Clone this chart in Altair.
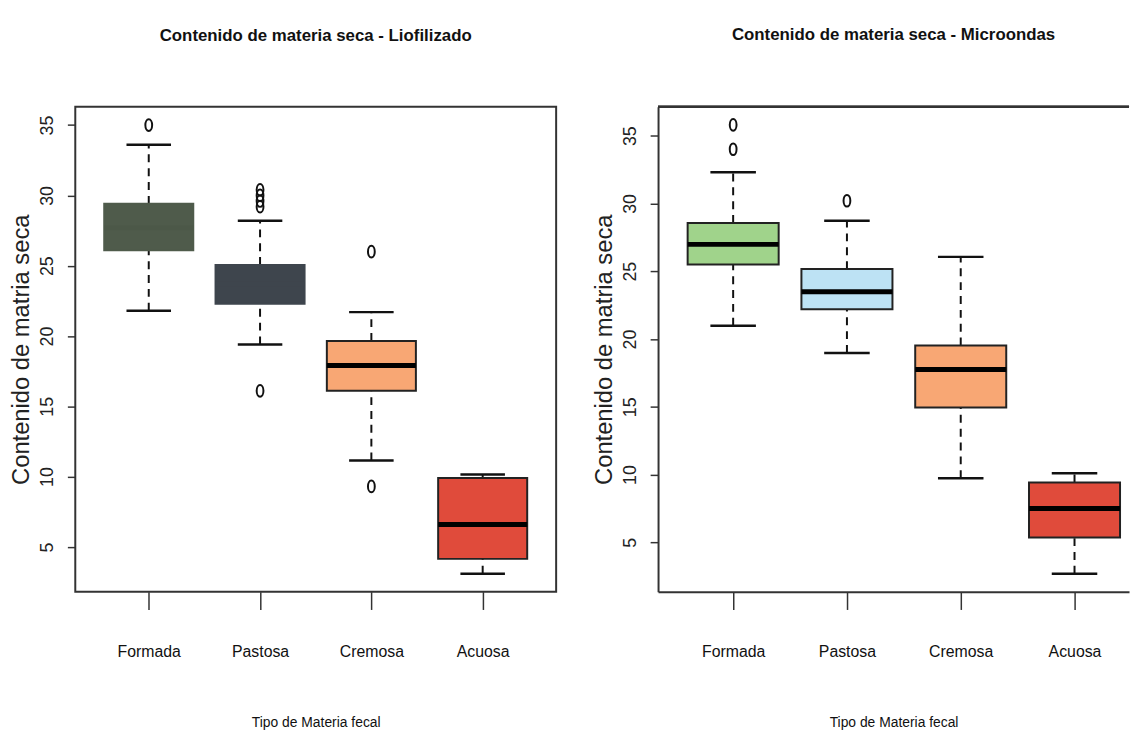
import altair as alt
import pandas as pd

categories = ["Formada", "Pastosa", "Cremosa", "Acuosa"]

# Contenido de materia seca - Liofilizado
lio_lower = [21.8, 19.4, 11.15, 3.1]
lio_q1 = [26.1, 22.3, 16.1, 4.15]
lio_median = [27.7, 23.7, 17.9, 6.6]
lio_q3 = [29.4, 25.05, 19.65, 9.9]
lio_upper = [33.6, 28.2, 21.7, 10.15]
lio_outliers = [[35.0], [30.4, 30.0, 29.6, 29.2, 16.1], [26.0, 9.3], []]
lio_fill = ["#4f5b4b", "#3e454d", "#f8a774", "#e04b3b"]
lio_border = ["#4f5b4b", "#3e454d", "#222222", "#222222"]
lio_medcol = ["#4c5848", "#3e454d", "#000000", "#000000"]

# Contenido de materia seca - Microondas
mic_lower = [20.98, 18.97, 9.73, 2.68]
mic_q1 = [25.5, 22.2, 14.95, 5.36]
mic_median = [26.98, 23.48, 17.75, 7.5]
mic_q3 = [28.56, 25.16, 19.52, 9.42]
mic_upper = [32.3, 28.73, 26.06, 10.1]
mic_outliers = [[35.8, 34.0], [30.2], [], []]
mic_fill = ["#a0d38b", "#bde2f4", "#f8a774", "#e04b3b"]
mic_border = ["#222222", "#222222", "#222222", "#222222"]
mic_medcol = ["#000000", "#000000", "#000000", "#000000"]

y_ticks = [5, 10, 15, 20, 25, 30, 35]

SANS = "'Liberation Sans', Arial, Helvetica, sans-serif"
ELLIPSE = "M -0.58 0 A 0.58 1 0 1 0 0.58 0 A 0.58 1 0 1 0 -0.58 0 Z"

label_expr = "[" + ",".join("'%s'" % c for c in categories) + "][datum.value - 1]"


def panel(title, lower, q1, med, q3, upper, outliers, fill, border, medcol,
          ydom, xdom, width, height, framed):
    box_df = pd.DataFrame({
        "idx": list(range(1, len(categories) + 1)),
        "cat": categories,
        "lower": lower, "q1": q1, "median": med, "q3": q3, "upper": upper,
        "fill": fill, "border": border, "medcol": medcol,
    })
    out_rows = []
    for i, vals in enumerate(outliers):
        for v in vals:
            out_rows.append({"idx": i + 1, "value": v})
    out_df = pd.DataFrame(out_rows, columns=["idx", "value"])

    xscale = alt.Scale(domain=xdom, nice=False, zero=False)
    yscale = alt.Scale(domain=ydom, nice=False, zero=False)
    xaxis = alt.Axis(
        values=[1, 2, 3, 4], labelExpr=label_expr, title="Tipo de Materia fecal",
        grid=False, domain=not framed, domainColor="#333333", domainWidth=2,
        tickSize=18, tickWidth=1.5, tickColor="#333333",
        labelFont=SANS, labelFontSize=16, labelColor="#111111", labelPadding=35,
        titleFont=SANS, titleFontSize=14, titleFontWeight="normal", titleColor="#111111",
        titlePadding=56,
    )
    yaxis = alt.Axis(
        values=y_ticks, title="Contenido de matria seca", grid=False,
        domain=not framed, domainColor="#333333", domainWidth=2,
        tickSize=8, tickWidth=1.5, tickColor="#333333",
        labelAngle=-90, labelAlign="center", labelBaseline="bottom",
        labelFont=SANS, labelFontSize=18, labelColor="#222222", labelPadding=11,
        titleFont=SANS, titleFontSize=24, titleFontWeight="normal", titleColor="#222222",
        titleAngle=-90, titleBaseline="middle", titleAlign="center",
        titleX=-54, titleY=height / 2,
    )

    base = alt.Chart(box_df).transform_calculate(
        xl="datum.idx - 0.4", xr="datum.idx + 0.4",
        cl="datum.idx - 0.2", cr="datum.idx + 0.2",
    )

    whisk_hi = base.mark_rule(strokeDash=[8, 6], strokeWidth=2, color="#111111").encode(
        x=alt.X("idx:Q", scale=xscale, axis=xaxis),
        y=alt.Y("q3:Q", scale=yscale, axis=yaxis), y2="upper:Q")
    whisk_lo = base.mark_rule(strokeDash=[8, 6], strokeWidth=2, color="#111111").encode(
        x=alt.X("idx:Q", scale=xscale, axis=xaxis),
        y=alt.Y("lower:Q", scale=yscale, axis=yaxis), y2="q1:Q")
    cap_hi = base.mark_rule(strokeWidth=2.5, color="#111111").encode(
        x=alt.X("cl:Q", scale=xscale, axis=xaxis), x2="cr:Q",
        y=alt.Y("upper:Q", scale=yscale, axis=yaxis))
    cap_lo = base.mark_rule(strokeWidth=2.5, color="#111111").encode(
        x=alt.X("cl:Q", scale=xscale, axis=xaxis), x2="cr:Q",
        y=alt.Y("lower:Q", scale=yscale, axis=yaxis))
    box = base.mark_rect(strokeWidth=2).encode(
        x=alt.X("xl:Q", scale=xscale, axis=xaxis), x2="xr:Q",
        y=alt.Y("q1:Q", scale=yscale, axis=yaxis), y2="q3:Q",
        fill=alt.Fill("fill:N", scale=None),
        stroke=alt.Stroke("border:N", scale=None))
    median = base.mark_rule(strokeWidth=5).encode(
        x=alt.X("xl:Q", scale=xscale, axis=xaxis), x2="xr:Q",
        y=alt.Y("median:Q", scale=yscale, axis=yaxis),
        color=alt.Color("medcol:N", scale=None))
    pts = alt.Chart(out_df).mark_point(
        shape=ELLIPSE, size=140, filled=False, strokeWidth=2, color="#111111", opacity=1
    ).encode(
        x=alt.X("idx:Q", scale=xscale, axis=xaxis),
        y=alt.Y("value:Q", scale=yscale, axis=yaxis))

    layers = [whisk_hi, whisk_lo, box, median, cap_hi, cap_lo, pts]
    if not framed:
        top = alt.Chart(box_df).mark_rule(strokeWidth=2, color="#333333").encode(
            x=alt.value(0), x2=alt.value(width), y=alt.value(0))
        layers.append(top)

    props = dict(
        width=width, height=height,
        title=alt.Title(title, font=SANS, fontSize=17, fontWeight="bold",
                        color="#111111", anchor="middle", offset=63),
    )
    if not framed:
        props["view"] = alt.ViewBackground(stroke="transparent")
    return alt.layer(*layers).properties(**props)


left = panel("Contenido de materia seca - Liofilizado",
             lio_lower, lio_q1, lio_median, lio_q3, lio_upper, lio_outliers,
             lio_fill, lio_border, lio_medcol,
             [1.82, 36.3], [0.34, 4.66], 486, 490, True)
right = panel("Contenido de materia seca - Microondas",
              mic_lower, mic_q1, mic_median, mic_q3, mic_upper, mic_outliers,
              mic_fill, mic_border, mic_medcol,
              [1.36, 37.13], [0.34, 4.479], 476, 490, False)

chart = alt.hconcat(left, right, spacing=35).properties(
    padding={"left": 1, "top": 13, "right": 0, "bottom": 0}
).configure_view(stroke="#333333", strokeWidth=2)

chart.save("out.html", embed_options={"renderer": "svg", "actions": False})
